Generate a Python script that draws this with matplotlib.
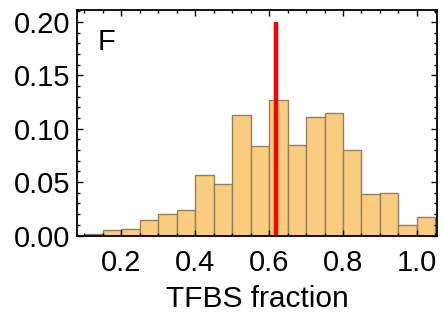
import matplotlib

matplotlib.use("Agg")
import matplotlib.pyplot as plt
from matplotlib.ticker import MultipleLocator

plt.rcParams["font.family"] = ["Liberation Sans", "DejaVu Sans"]

# Левые края интервалов гистограммы (ширина 0.05) и доли
BIN_LEFT = [0.10, 0.15, 0.20, 0.25, 0.30, 0.35, 0.40, 0.45, 0.50, 0.55,
            0.60, 0.65, 0.70, 0.75, 0.80, 0.85, 0.90, 0.95, 1.00]
BIN_WIDTH = 0.05
FRACTION = [0.0015, 0.0056, 0.0062, 0.0148, 0.0200, 0.0238, 0.0570, 0.0480,
            0.1127, 0.0836, 0.1265, 0.0846, 0.1114, 0.1151, 0.0802, 0.0389,
            0.0398, 0.0099, 0.0170]
MARKER_X = 0.619
MARKER_Y = [-0.001, 0.200]

fig = plt.figure(figsize=(4.43, 3.16), dpi=100)
ax = fig.add_axes([0.174, 0.253, 0.812, 0.715])

ax.bar(BIN_LEFT, FRACTION, width=BIN_WIDTH, align="edge",
       color="#f9cc7f", edgecolor="#94805e", linewidth=1.0)
ax.plot([MARKER_X, MARKER_X], MARKER_Y, color="#ff0000", lw=3.2, solid_capstyle="butt")

ax.set_xlim(0.08, 1.054)
ax.set_ylim(-0.0005, 0.211)
ax.xaxis.set_major_locator(MultipleLocator(0.2))
ax.xaxis.set_minor_locator(MultipleLocator(0.05))
ax.yaxis.set_major_locator(MultipleLocator(0.05))
ax.yaxis.set_minor_locator(MultipleLocator(0.01))
ax.xaxis.set_major_formatter(lambda v, p: f"{v:.1f}")
ax.yaxis.set_major_formatter(lambda v, p: f"{v:.2f}")
ax.tick_params(which="both", direction="in", top=True, right=True, labelsize=21,
               width=1.0, color="black")
ax.tick_params(which="major", length=4)
ax.tick_params(which="minor", length=2)
ax.tick_params(axis="x", which="major", pad=9)
ax.tick_params(axis="y", which="major", pad=5)
for s in ax.spines.values():
    s.set_linewidth(1.3)

ax.set_xlabel("TFBS fraction", fontsize=21.5, labelpad=6)
ax.text(0.058, 0.86, "F", transform=ax.transAxes, fontsize=21, va="center", ha="left")

fig.savefig("out.png", dpi=100)
